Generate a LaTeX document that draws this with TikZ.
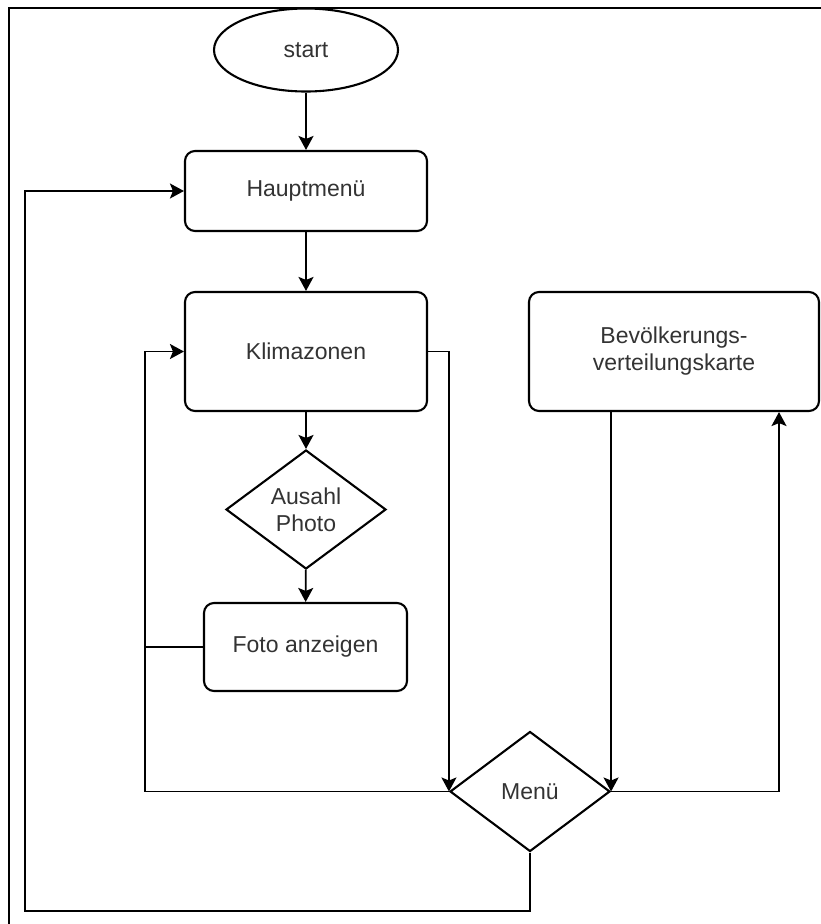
\documentclass[tikz,border=0pt]{standalone}
\usepackage{fontspec}
\setmainfont{Liberation Sans}
\usetikzlibrary{shapes.geometric,arrows.meta}
\definecolor{txt}{HTML}{333333}
\begin{document}
\begin{tikzpicture}[x=1pt,y=-1pt,
  every node/.style={font=\fontsize{23}{27}\selectfont, text=txt, align=center, inner sep=0pt},
  box/.style={draw, rectangle, rounded corners=10pt, line width=2.1pt},
  oval/.style={draw, ellipse, line width=2.1pt},
  choice/.style={draw, diamond, aspect=1.35, line width=2.1pt},
  conn/.style={line width=1.9pt},
  arr/.style={conn, -{Stealth[length=14pt,width=15pt,inset=3pt]}},
  frame/.style={line width=2.8pt}
]
\useasboundingbox (0,0) rectangle (821,924);
\draw[frame] (9,924) -- (9,8) -- (821,8);

\node[oval, minimum width=184pt, minimum height=83pt] (start) at (306,50) {start};
\node[box, minimum width=242pt, minimum height=80pt] (haupt) at (306,191) {Hauptmenü};
\node[box, minimum width=242pt, minimum height=119pt] (klima) at (306,351.5) {Klimazonen};
\node[choice, minimum width=160pt, minimum height=119pt] (ausahl) at (306,509.5) {Ausahl\\Photo};
\node[box, minimum width=203pt, minimum height=88pt] (foto) at (305.5,647) {Foto anzeigen};
\node[choice, minimum width=160pt, minimum height=120pt] (menu) at (530,791.5) {Menü};
\node[box, minimum width=290pt, minimum height=119pt] (bev) at (674,351.5) {Bevölkerungs-\\verteilungskarte};

\coordinate (lx) at (145,0);
\coordinate (rx) at (779,0);
\coordinate (bx) at (25,911);

\draw[arr] (start) -- (haupt);
\draw[arr] (haupt) -- (klima);
\draw[arr] (klima) -- (ausahl);
\draw[arr] (ausahl) -- (foto);
\draw[arr] (klima.east) -- (klima.east -| menu.west) -- (menu.west);
\draw[arr] (menu.east |- bev.south) -- (menu.east);
\draw[arr] (menu.east) -- (menu.east -| rx) -- (rx |- bev.south);
\draw[arr] (menu.west) -- (menu.west -| lx) -- (lx |- klima.west) -- (klima.west);
\draw[conn] (foto.west) -- (foto.west -| lx);
\draw[arr] (menu.south) -- (menu.south |- bx) -- (bx) -- (bx |- haupt.west) -- (haupt.west);
\end{tikzpicture}
\end{document}
